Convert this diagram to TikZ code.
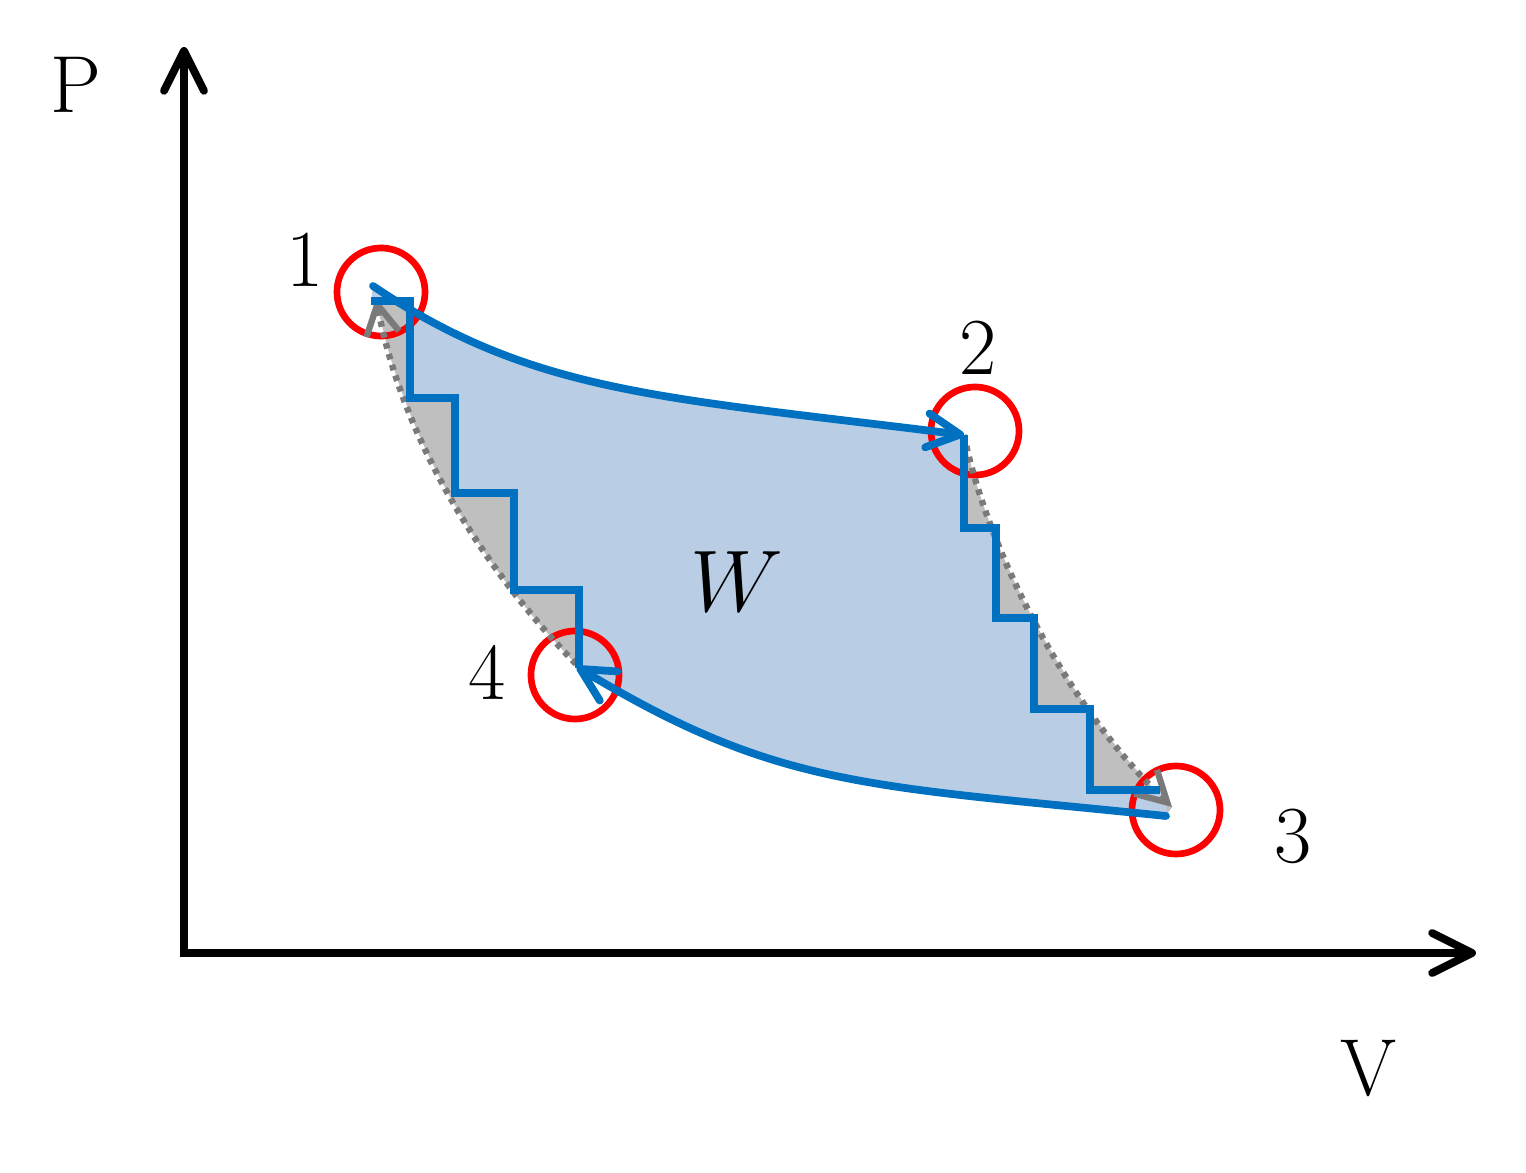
\documentclass[tikz,border=0pt]{standalone}
\usetikzlibrary{arrows.meta,calc}

\definecolor{cycleblue}{HTML}{0070C0}
\definecolor{workfill}{HTML}{B9CDE5}
\definecolor{lossfill}{HTML}{BFBFBF}
\definecolor{adiagray}{HTML}{7A7A7A}

\tikzset{
  lab/.style={font=\fontsize{23}{28}\selectfont},
  statering/.style={circle, draw=red, line width=1.9pt, minimum size=0.88cm, inner sep=0pt},
  axis/.style={line width=2.2pt, {Straight Barb[length=4mm,width=4mm,round]}-{Straight Barb[length=4mm,width=4mm,round]}},
  iso/.style={cycleblue, line width=2.2pt, line cap=round, -{Straight Barb[length=3.3mm,width=3.4mm,round]}},
  stairs/.style={cycleblue, line width=2.2pt},
  adia/.style={adiagray, line width=1.8pt, dash pattern=on 1.6pt off 1.6pt, -{Straight Barb[length=3mm,width=3.3mm]}}
}

\begin{document}
\begin{tikzpicture}[x=0.01cm,y=-0.01cm]
\useasboundingbox (0,0) rectangle (1526,1173);
% Points of the cycle
\coordinate (O) at (184,953);
\coordinate (ytop) at (184,47);
\coordinate (xend) at (1476,953);
\coordinate (p1) at (373,286);
\coordinate (p1a) at (376,298);
\coordinate (p2) at (964,435);
\coordinate (p3) at (1166,816);
\coordinate (p3a) at (1172,807);
\coordinate (p4) at (577,667);
\coordinate (p4a) at (576,664);
% Gray area between steps and adiabats
\fill [lossfill] (p1) .. controls (533,394) and (662,397) .. (p2)
  .. controls (985,540) and (1060,700) .. (p3a) -- (p3)
  .. controls (865,785) and (778,788) .. (p4) -- (p4a)
  .. controls (470,555) and (400,426) .. (p1a) -- cycle;
% Work area W
\fill [workfill] (p1) .. controls (533,394) and (662,397) .. (p2)
  -- (964,528) -- (996,528) -- (996,618) -- (1034,618) -- (1034,709)
  -- (1090,709) -- (1090,790) -- (1166,790) -- (p3)
  .. controls (865,785) and (778,788) .. (p4)
  -- (579,590) -- (514,590) -- (514,493) -- (455,493) -- (455,398)
  -- (410,398) -- (410,301) -- (371,301) -- cycle;
% Circles at the states
\node [statering] (c1) at (381,292) {};
\node [statering] (c2) at (975,431) {};
\node [statering] (c3) at (1176,810) {};
\node [statering] (c4) at (575,675) {};
% Adiabats 2-3 and 4-1
\draw [adia] (p2) .. controls (985,540) and (1060,700) .. (p3a);
\draw [adia] (p4a) .. controls (470,555) and (400,426) .. (p1a);
% Steps
\draw [stairs] (p2) -- (964,528) -- (996,528) -- (996,618) -- (1034,618)
  -- (1034,709) -- (1090,709) -- (1090,790) -- (1160,790);
\draw [stairs] (579,668) -- (579,590) -- (514,590) -- (514,493) -- (455,493)
  -- (455,398) -- (410,398) -- (410,301) -- (371,301);
% Isotherms 1-2 and 3-4
\draw [iso] (p1) .. controls (533,394) and (662,397) .. (p2);
\draw [iso] (p3) .. controls (865,785) and (778,788) .. (p4);
% Axis
\draw [axis] (ytop) -- (O) -- (xend);
% Labels
\node [lab] (lP) at (76,85) {P};
\node [lab] (lV) at (1369,1069) {V};
\node [lab] (l1) at (305,260) {1};
\node [lab] (l2) at (978,348) {2};
\node [lab] (l3) at (1293,836) {3};
\node [lab] (l4) at (487,672) {4};
\node [lab] (lW) at (737,582) {$W$};
\end{tikzpicture}
\end{document}
